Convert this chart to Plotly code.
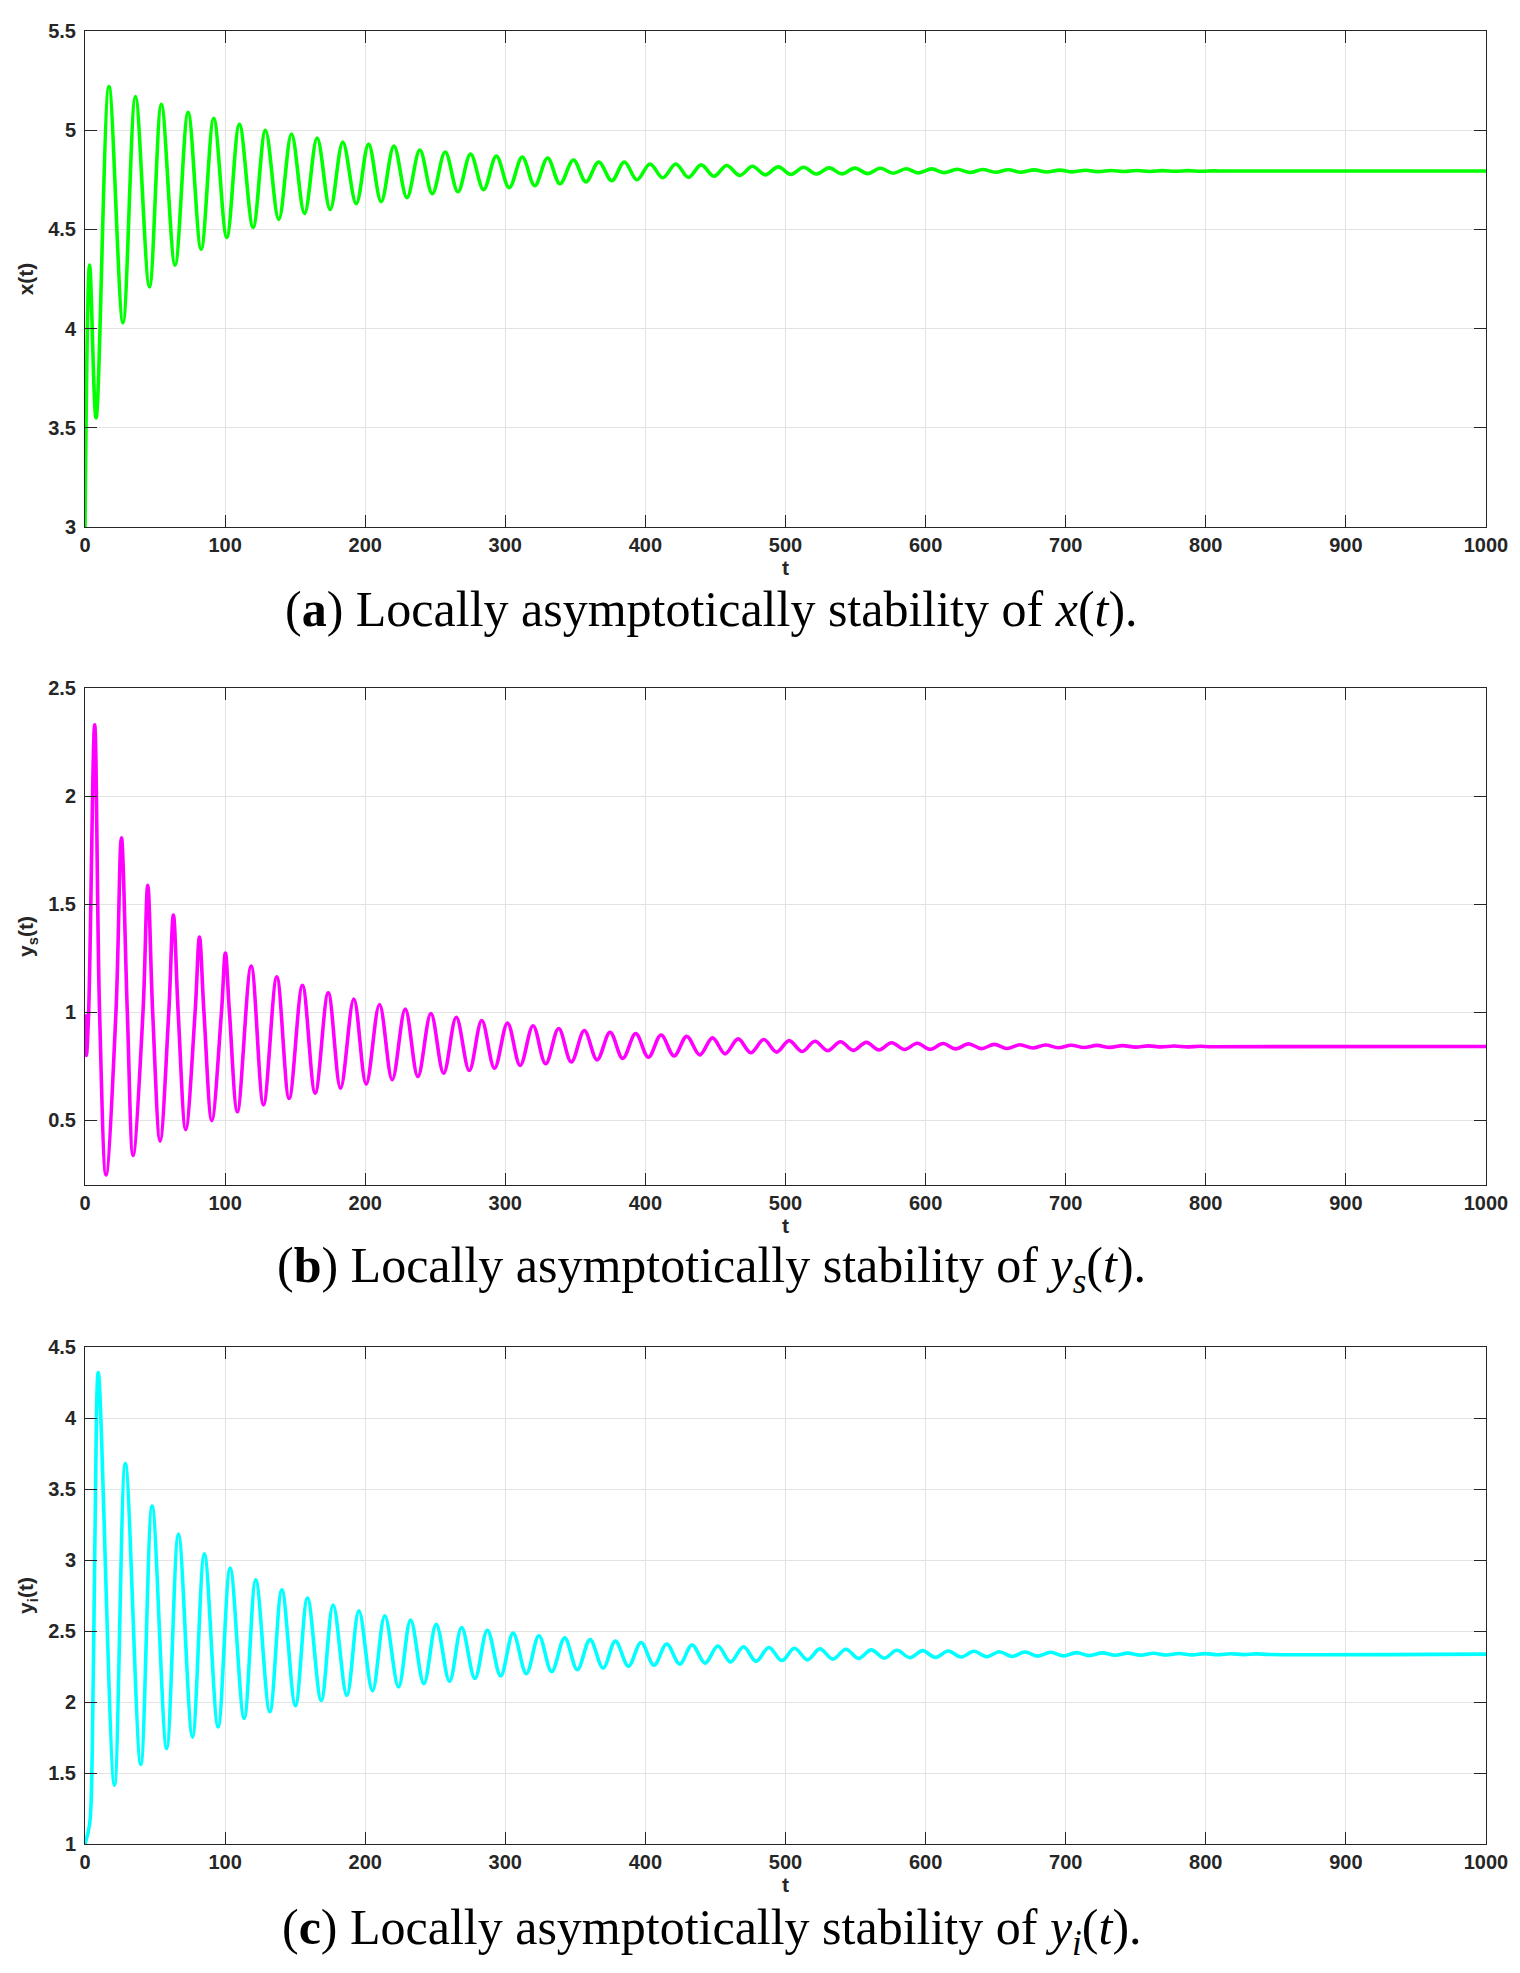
import plotly.graph_objects as go

# turning points (t, value)
t_x = [0, 3.3, 7.9, 17.1, 27.1, 36, 46, 54.5, 64.3, 73.6, 82.9, 91.9, 101.2, 110.2, 120, 128.8,
       138.3, 147.4, 156.7, 165.7, 175, 184, 193.6, 202.4, 211.4, 220.5, 229.8, 239, 247.9, 257.1,
       266.2, 275.2, 284.5, 293.6, 302.8, 312.1, 321, 330.2, 339, 348.6, 357.6, 366.7, 376, 385,
       394, 403.3, 412.4, 421.7, 430.7, 439.8, 449, 458, 467.4, 476.4, 485.5, 494.8, 503.8, 512.9,
       521.9, 531.2, 540.2, 549.5, 558.6, 567.6, 576.9, 586, 595, 604.3, 613.3, 622.4, 631.7, 640.7,
       649.8, 659, 668, 677.4, 686.5, 695.7, 704.8, 714, 723.2, 732.4, 741.5, 750.7, 759.9, 769,
       778.2, 787.4, 796.6, 805.8, 815, 1000]
x_vals = [3.0, 4.32, 3.55, 5.22, 4.03, 5.17, 4.21, 5.13, 4.32, 5.09, 4.40, 5.06, 4.46, 5.03, 4.51, 5.00,
          4.55, 4.98, 4.58, 4.96, 4.60, 4.94, 4.63, 4.93, 4.64, 4.92, 4.66, 4.90, 4.68, 4.89,
          4.69, 4.88, 4.70, 4.87, 4.71, 4.865, 4.72, 4.86, 4.73, 4.85, 4.74, 4.84, 4.745, 4.84,
          4.75, 4.83, 4.76, 4.83, 4.762, 4.825, 4.768, 4.822, 4.772, 4.818, 4.775, 4.815, 4.777, 4.813,
          4.779, 4.81, 4.78, 4.809, 4.781, 4.808, 4.783, 4.806, 4.785, 4.805, 4.786, 4.803, 4.787, 4.802,
          4.788, 4.801, 4.788, 4.8, 4.789, 4.799, 4.79, 4.798, 4.791, 4.797, 4.792, 4.797, 4.792, 4.796,
          4.793, 4.796, 4.793, 4.795, 4.794, 4.7945]

# y_s: early cycles also carry the crossings of the 1.0 level (peaks are narrow)
t_ys = [0, 1.0, 2.6, 6.9, 10.4, 15, 22.1, 26, 30.2, 34.3, 41.4, 44.8, 48.3, 53.6, 59.8, 63.1, 66.5,
        71.9, 78.6, 81.7, 84.9, 90.5, 97.4, 100.2, 103.1, 108.8, 118.6, 127.4,
        136.9, 145.7, 155.2, 164.3, 173.6, 182.4, 191.9, 200.7, 210.2, 219.3, 228.6, 237.6, 246.9,
        256, 265, 274.3, 283.2, 292.3, 301.6, 310.6, 319.8, 328.8, 338.1, 347.1, 356.4, 365.5, 374.8,
        383.8, 393.1, 402.1, 411.2, 420.5, 429.5, 438.8, 447.9, 456.9, 466.2, 475.2, 484.5, 493.6,
        502.6, 511.9, 521, 530, 539.3, 548.3, 557.6, 566.7, 575.7, 585, 594, 603.1, 612.4, 621.4,
        630.7, 639.8, 649, 658, 667.3, 676.4, 685.6, 694.7, 704, 713, 722.3, 731.4, 740.6, 749.7,
        759, 768, 777.3, 786.4, 795.6, 804.7, 1000]
ys_vals = [0.99, 0.80, 1.0, 2.33, 1.0, 0.247, 1.0, 1.807, 1.0, 0.337, 1.0, 1.587, 1.0, 0.403, 1.0, 1.449,
           1.0, 0.456, 1.0, 1.347, 1.0, 0.498, 1.0, 1.273, 1.0, 0.539,
           1.213, 0.571, 1.163, 0.600, 1.124, 0.625, 1.089, 0.648, 1.060, 0.667, 1.035, 0.687, 1.014,
           0.702, 0.994, 0.717, 0.976, 0.730, 0.961, 0.740, 0.949, 0.753, 0.937, 0.761, 0.924, 0.769,
           0.915, 0.779, 0.907, 0.786, 0.901, 0.791, 0.894, 0.797, 0.888, 0.802, 0.881, 0.807, 0.876,
           0.812, 0.873, 0.815, 0.868, 0.818, 0.865, 0.822, 0.863, 0.823, 0.860, 0.825, 0.858, 0.827,
           0.856, 0.828, 0.855, 0.830, 0.853, 0.831, 0.851, 0.832, 0.849, 0.834, 0.848, 0.835, 0.847,
           0.836, 0.846, 0.837, 0.845, 0.838, 0.844, 0.839, 0.843, 0.839, 0.842, 0.840, 0.841]

t_yi = [0, 3.3, 5.2, 7.1, 9.5, 21, 28.8, 39.8, 47.9, 58.3, 66.7, 76.7, 85.2, 95, 103.6, 113.6, 121.9,
        131.9, 140.5, 150.2, 158.8, 168.6, 177.1, 186.9, 195.5, 205.2, 214, 223.8, 232.4, 241.9,
        250.7, 260.2, 268.8, 278.3, 287.2, 296.7, 305.6, 315, 324, 333.1, 342.4, 351.4, 360.5, 369.8,
        378.6, 387.9, 396.9, 406.2, 415.2, 424.5, 433.3, 442.6, 451.7, 460.7, 470, 479, 488.1, 497.4,
        506.4, 515.7, 524.5, 533.8, 543.1, 552.1, 561.2, 570.5, 579.5, 588.8, 597.9, 606.9, 616.2,
        625.2, 634.5, 643.6, 652.6, 661.8, 671, 680.1, 689.3, 698.4, 707.6, 716.8, 726, 735.1, 744.3,
        753.5, 762.7, 771.8, 781, 790.2, 799.4, 808.5, 817.7, 826.9, 836, 845.2, 1000]
yi_vals = [1.0, 1.14, 1.66, 3.17, 4.32, 1.415, 3.68, 1.56, 3.38, 1.673, 3.183, 1.753, 3.043, 1.824, 2.943,
           1.884, 2.86, 1.931, 2.79, 1.974, 2.732, 2.011, 2.682, 2.046, 2.642, 2.079, 2.607, 2.106,
           2.577, 2.129, 2.547, 2.146, 2.525, 2.166, 2.505, 2.184, 2.485, 2.199, 2.467, 2.214, 2.452,
           2.227, 2.439, 2.239, 2.429, 2.252, 2.419, 2.259, 2.409, 2.267, 2.402, 2.274, 2.394, 2.282,
           2.389, 2.287, 2.384, 2.292, 2.379, 2.297, 2.374, 2.302, 2.372, 2.307, 2.367, 2.309, 2.364,
           2.312, 2.362, 2.314, 2.359, 2.317, 2.357, 2.319, 2.354, 2.321, 2.352, 2.323, 2.35, 2.325,
           2.348, 2.327, 2.346, 2.329, 2.344, 2.33, 2.343, 2.331, 2.342, 2.332, 2.341, 2.333, 2.34,
           2.334, 2.339, 2.335, 2.337]

y_titles = ["x(t)", "y<sub>s</sub>(t)", "y<sub>i</sub>(t)"]
y_ranges = [[3, 5.5], [0.2, 2.5], [1, 4.5]]
y_tick0 = [3, 0.5, 1]
captions = ["(<b>a</b>) Locally asymptotically stability of <i>x</i>(<i>t</i>).",
            "(<b>b</b>) Locally asymptotically stability of <i>y</i><sub><i>s</i></sub>(<i>t</i>).",
            "(<b>c</b>) Locally asymptotically stability of <i>y</i><sub><i>i</i></sub>(<i>t</i>)."]
colors = ["#00ff00", "#ff00ff", "#00ffff"]

# the page body has an 8px margin, so lay out everything 8px up/left
OFF = 8
W, H = 1520 - OFF, 1973 - OFF
boxes = [(20 - OFF, 519 - OFF), (681 - OFF, 1181 - OFF), (1344 - OFF, 1844 - OFF)]
L, R = 85 - OFF, 1487 - OFF
caption_x = 712 - OFF
caption_y = [602 - OFF, 1266 - OFF, 1932 - OFF]

AX = '#262626'
tickfont = dict(family='Liberation Sans', size=20, color=AX, weight='bold')
titlefont = dict(family='Liberation Sans', size=21, color=AX, weight='bold')

fig = go.Figure()
series = [(t_x, x_vals), (t_ys, ys_vals), (t_yi, yi_vals)]
top_px, bot_px = boxes[0][0], boxes[-1][1]
paper_h = bot_px - top_px

for i, (tt, vv) in enumerate(series):
    n = '' if i == 0 else str(i + 1)
    fig.add_trace(go.Scatter(
        x=tt, y=vv, mode='lines',
        line=dict(color=colors[i], width=3.6, shape='spline', smoothing=1.0),
        xaxis='x' + n, yaxis='y' + n, showlegend=False,
    ))
    top, bot = boxes[i]
    dom = [(bot_px - bot) / paper_h, (bot_px - top) / paper_h]
    common = dict(
        showline=True, linecolor=AX, linewidth=1, mirror='ticks',
        ticks='inside', ticklen=12, tickcolor=AX, tickwidth=1,
        showgrid=True, gridcolor='#e3e3e3', gridwidth=1, zeroline=False,
        tickfont=tickfont,
    )
    fig.update_layout({
        'xaxis' + n: dict(common, domain=[0, 1], range=[0, 1000], dtick=100, tick0=0,
                          anchor='y' + n, ticklabelstandoff=0,
                          title=dict(text='t', font=titlefont, standoff=2)),
        'yaxis' + n: dict(common, domain=dom, range=y_ranges[i], dtick=0.5, tick0=y_tick0[i],
                          anchor='x' + n, ticklabelstandoff=4,
                          title=dict(text=y_titles[i], font=titlefont, standoff=8)),
    })
    fig.add_annotation(
        text=captions[i], xref='paper', yref='paper',
        x=(caption_x - L) / (R - L), y=(bot_px - caption_y[i]) / paper_h,
        xanchor='center', yanchor='middle', showarrow=False,
        font=dict(family='Liberation Serif', size=50, color='black'),
    )

fig.update_layout(
    width=W, height=H,
    margin=dict(l=L, r=W - R, t=top_px, b=H - bot_px),
    paper_bgcolor='white', plot_bgcolor='white',
)

fig.write_html("out.html")
